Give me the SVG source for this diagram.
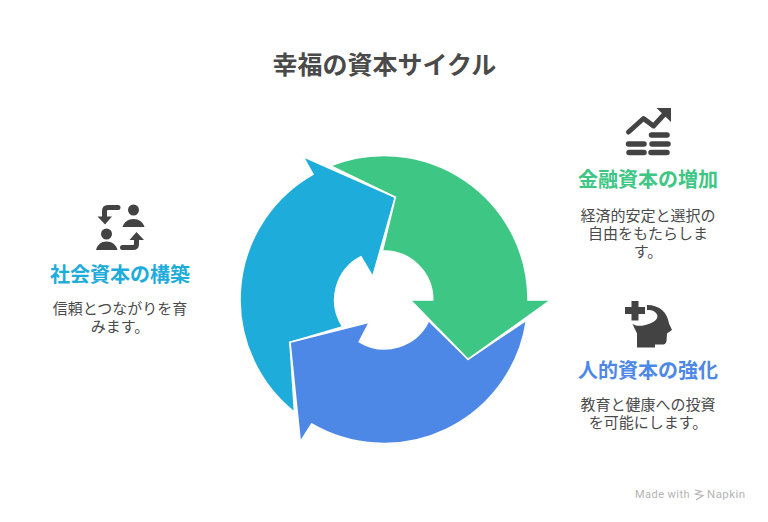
<svg xmlns="http://www.w3.org/2000/svg" width="768" height="522" viewBox="0 0 768 522">
<style>
text{font-family:"Noto Sans CJK JP","Noto Sans",sans-serif;text-anchor:middle}
.title{font-size:25px;font-weight:700;fill:#4a4a4a}
.head{font-size:20px;font-weight:700}
.body{font-size:15px;fill:#4a4a4a}
.seg{stroke:#fff;stroke-width:1.6;stroke-linejoin:miter;stroke-miterlimit:12}
.ic{fill:#434343}
.ln{fill:none;stroke:#434343;stroke-linecap:round;stroke-linejoin:round}
.mark{font-family:Roboto,sans-serif;font-size:11px;fill:#b4b4b4;text-anchor:start;letter-spacing:.45px}
</style>
<rect width="768" height="522" fill="#fff"/>
<text class="title" x="384.500" y="73.500">幸福の資本サイクル</text>
<g id="connectors">
<path id="arrow-social" class="seg" fill="#1eacdb" d="M294.500 412.300A144 144 0 0 1 312.900 174.300L303 156.500L395.300 197.300L372.700 276.700L361 256.700A48.700 48.700 0 0 0 342.700 326.700L290 342.300Z"/>
<path id="arrow-human" class="seg" fill="#4e88e7" d="M526.500 320.100A144 144 0 0 1 311.600 424L300.300 442L290 342.300L369.300 322.300L359.300 341.700A48.700 48.700 0 0 0 428.700 320.700L468 359.300Z"/>
<path id="arrow-financial" class="seg" fill="#3ec784" d="M330.300 165.800A144 144 0 0 1 528 300L551 300L468 359.300L410.300 300L432.700 300A48.700 48.700 0 0 0 382.300 251L395.300 197.300Z"/>
</g>
<g id="node-financial">
<path class="ln" stroke-width="5" d="M628.500 132L643.500 118.500L653.500 126L665 113.500"/>
<path class="ic" d="M656.500 108L671 108L671 122Z"/>
<g class="ln" stroke-width="5.500"><path d="M651.500 135H667M628.500 144H644M652 144H668M629 152.500H644M651 152.500H667"/></g>
<text class="head" x="648" y="186.500" fill="#3ec784">金融資本の増加</text>
<text class="body" x="648" y="221">経済的安定と選択の</text>
<text class="body" x="648" y="239">自由をもたらしま</text>
<text class="body" x="648" y="257">す。</text>
</g>
<g id="node-human">
<path class="ic" d="M631.500 301H638.500V307H645V314H638.500V320.500H631.500V314H625V307H631.500Z"/>
<path class="ic" d="M647 305C660 305 667.500 313 669 323.500L672 330L667 333.500L666.500 341C666 344 664 344.500 662 344.500H655V347.500H637V333.500L632.500 324C638 327 643 326 650 323.500C658 320.500 659 316 655.500 312.500C653 310 650 310 647 310Z"/>
<text class="head" x="648" y="378" fill="#4e88e7">人的資本の強化</text>
<text class="body" x="648" y="410">教育と健康への投資</text>
<text class="body" x="648" y="428">を可能にします。</text>
</g>
<g id="node-social">
<path class="ln" stroke-width="5" d="M118 207.500H108Q104.500 207.500 104.500 211V217"/>
<path class="ic" d="M97.500 216.500H112L105 224.500Z"/>
<circle class="ic" cx="133.500" cy="210" r="5.500"/>
<path class="ic" d="M122.500 227C124 222 128 219 133.500 219C139 219 143 222 144.500 227Z"/>
<circle class="ic" cx="106.500" cy="234" r="5.500"/>
<path class="ic" d="M96 250C97.500 244.500 101 241.500 106.500 241.500C112 241.500 116 244.500 117.500 250Z"/>
<path class="ln" stroke-width="5" d="M122.500 247.500H133Q136.500 247.500 136.500 244V238"/>
<path class="ic" d="M129.500 240H144L136.500 232Z"/>
<text class="head" x="120" y="282" fill="#1eacdb">社会資本の構築</text>
<text class="body" x="120" y="314">信頼とつながりを育</text>
<text class="body" x="120" y="332">みます。</text>
</g>
<g id="watermark">
<text class="mark" x="635" y="498">Made with</text>
<path fill="none" stroke="#b4b4b4" stroke-width="1.200" d="M695 490L701 491.500L695.500 494L703 495.500L696 500"/>
<text class="mark" x="707" y="498" style="font-size:11.500px">Napkin</text>
</g>
</svg>
